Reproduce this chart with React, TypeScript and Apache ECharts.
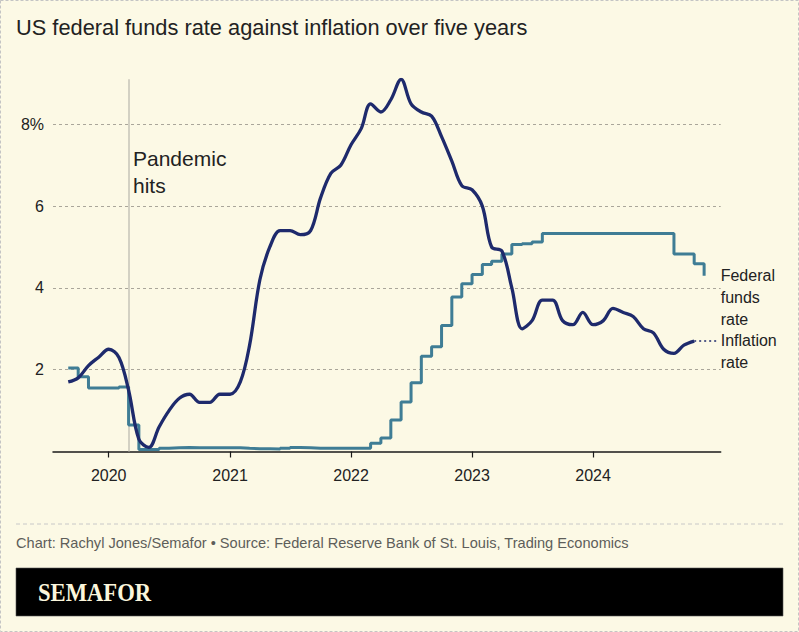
import React, { useEffect, useRef } from 'react';
import * as echarts from 'echarts';

// ---- Data (monthly, first of month) ----
const fedStart = [2019, 9];
const fedRate = [
  2.04, 1.83, 1.55, 1.55,
  1.55, 1.58, 0.65, 0.05, 0.05, 0.08, 0.09, 0.10, 0.09, 0.09, 0.09, 0.09,
  0.09, 0.08, 0.07, 0.07, 0.06, 0.08, 0.10, 0.09, 0.08, 0.08, 0.08, 0.08,
  0.08, 0.08, 0.20, 0.33, 0.77, 1.21, 1.68, 2.33, 2.56, 3.08, 3.78, 4.10,
  4.33, 4.57, 4.65, 4.83, 5.06, 5.08, 5.12, 5.33, 5.33, 5.33, 5.33, 5.33,
  5.33, 5.33, 5.33, 5.33, 5.33, 5.33, 5.33, 5.33, 4.83, 4.83, 4.59, 4.30,
];
const inflationStart = [2019, 9];
const inflationRate = [
  1.7, 1.8, 2.1, 2.3,
  2.5, 2.3, 1.5, 0.3, 0.1, 0.6, 1.0, 1.3, 1.4, 1.2, 1.2, 1.4,
  1.4, 1.7, 2.6, 4.2, 5.0, 5.4, 5.4, 5.3, 5.4, 6.2, 6.8, 7.0,
  7.5, 7.9, 8.5, 8.3, 8.6, 9.1, 8.5, 8.3, 8.2, 7.7, 7.1, 6.5,
  6.4, 6.0, 5.0, 4.9, 4.0, 3.0, 3.2, 3.7, 3.7, 3.2, 3.1, 3.4,
  3.1, 3.2, 3.5, 3.4, 3.3, 3.0, 2.9, 2.5, 2.4, 2.6, 2.7,
];
const yearTicks = [2020, 2021, 2022, 2023, 2024];
const yTickLabels: Record<number, string> = { 2: '2', 4: '4', 6: '6', 8: '8%' };
const pandemicDate = [2020, 3, 1];
const xRange = [[2019, 7, 17], [2025, 1, 20]];
const yRange = [0, 9.1];

const ts = (y: number, m: number, d = 1) => new Date(y, m - 1, d).getTime();
const monthSeries = (start: number[], values: number[]) =>
  values.map((v, i) => {
    const idx = start[1] - 1 + i;
    return [ts(start[0] + Math.floor(idx / 12), (idx % 12) + 1), v];
  });

const BG = '#fcf9e5';
const FED = '#3f7d95';
const INF = '#1e2a6c';
const TXT = '#222222';
const FONT = '"Liberation Sans", Arial, sans-serif';

export default function App() {
  const ref = useRef<HTMLDivElement>(null);
  useEffect(() => {
    document.body.style.margin = '0';
    const chart = echarts.init(ref.current!, undefined, { renderer: 'svg' });
    const fedData = monthSeries(fedStart, fedRate);
    const infData = monthSeries(inflationStart, inflationRate);
    const yearTs = yearTicks.map((y) => ts(y, 1));
    const xMin = ts(xRange[0][0], xRange[0][1], xRange[0][2]);
    const xMax = ts(xRange[1][0], xRange[1][1], xRange[1][2]);
    const lastInf = infData[infData.length - 1];

    chart.setOption({
      animation: false,
      backgroundColor: BG,
      grid: { left: 53, right: 78.3, top: 79.3, bottom: 180.5 },
      xAxis: {
        type: 'value',
        min: xMin,
        max: xMax,
        axisLine: { show: true, lineStyle: { color: '#1a1a1a', width: 1.5 } },
        axisTick: { show: true, length: 6, lineStyle: { color: '#1a1a1a', width: 1.2 }, customValues: yearTs },
        axisLabel: {
          customValues: yearTs,
          formatter: (v: number) => String(new Date(v).getFullYear()),
          fontSize: 16,
          color: TXT,
          fontFamily: FONT,
          margin: 16,
        },
        splitLine: { show: false },
        minorTick: { show: false },
      },
      yAxis: {
        type: 'value',
        min: yRange[0],
        max: yRange[1],
        interval: 2,
        axisLine: { show: false },
        axisTick: { show: false },
        axisLabel: {
          formatter: (v: number) => yTickLabels[v] ?? '',
          showMaxLabel: false,
          showMinLabel: false,
          margin: 9,
          fontSize: 16,
          color: TXT,
          fontFamily: FONT,
        },
        splitLine: {
          show: true,
          showMinLine: false,
          showMaxLine: false,
          lineStyle: { type: [3, 3], color: '#aaa69a', width: 1 },
        },
      },
      series: [
        {
          name: 'Federal funds rate',
          type: 'line',
          step: 'end',
          data: fedData,
          symbol: 'none',
          lineStyle: { color: FED, width: 3 },
          z: 2,
          markLine: {
            silent: true,
            symbol: ['none', 'none'],
            label: { show: false },
            lineStyle: { color: '#c6c3b7', width: 1.5, type: 'solid' },
            data: [{ xAxis: ts(pandemicDate[0], pandemicDate[1], pandemicDate[2]) }],
            z: 1,
          },
        },
        {
          name: 'Inflation rate',
          type: 'line',
          smooth: 0.35,
          data: infData,
          symbol: 'none',
          lineStyle: { color: INF, width: 3.3 },
          z: 3,
          markLine: {
            silent: true,
            symbol: ['none', 'none'],
            label: { show: false },
            lineStyle: { color: INF, width: 1.6, type: [2, 3] },
            data: [[{ coord: [lastInf[0], lastInf[1]] }, { coord: [xMax - 8 * 86400000, lastInf[1]] }]],
          },
        },
      ],
      graphic: [
        {
          type: 'rect',
          shape: { x: 0.5, y: 0.5, width: 798, height: 631 },
          style: { fill: 'none', stroke: '#c4c4c4', lineWidth: 1, lineDash: [3, 2] },
          silent: true,
        },
        {
          type: 'line',
          shape: { x1: 16, y1: 524, x2: 783, y2: 524 },
          style: { stroke: '#c8c8c8', lineWidth: 1, lineDash: [4, 3] },
          silent: true,
        },
        {
          type: 'text',
          x: 16,
          y: 27,
          style: { text: 'US federal funds rate against inflation over five years', fontSize: 21.8, fontFamily: FONT, fill: TXT, verticalAlign: 'middle', align: 'left' },
        },
        {
          type: 'text',
          x: 133,
          y: 145.3,
          style: { text: 'Pandemic\nhits', fontSize: 21, lineHeight: 26.5, fontFamily: FONT, fill: TXT, verticalAlign: 'top', align: 'left' },
        },
        {
          type: 'text',
          x: 720.7,
          y: 264.5,
          style: { text: 'Federal\nfunds\nrate', fontSize: 16, lineHeight: 21.8, fontFamily: FONT, fill: TXT, verticalAlign: 'top', align: 'left' },
        },
        {
          type: 'text',
          x: 720.7,
          y: 329.9,
          style: { text: 'Inflation\nrate', fontSize: 16, lineHeight: 21.8, fontFamily: FONT, fill: TXT, verticalAlign: 'top', align: 'left' },
        },
        {
          type: 'text',
          x: 16,
          y: 543.4,
          style: { text: 'Chart: Rachyl Jones/Semafor \u2022 Source: Federal Reserve Bank of St. Louis, Trading Economics', fontSize: 14.6, fontFamily: FONT, fill: '#5e5e5a', verticalAlign: 'middle', align: 'left' },
        },
        {
          type: 'rect',
          shape: { x: 16, y: 568, width: 767, height: 48 },
          style: { fill: '#000000', stroke: '#555', lineWidth: 0.6 },
        },
        {
          type: 'text',
          x: 38,
          y: 592,
          scaleX: 0.87,
          style: { text: 'SEMAFOR', fontSize: 26, fontWeight: 'bold', fontFamily: '"Liberation Serif", "DejaVu Serif", serif', fill: '#fbf6dc', verticalAlign: 'middle', align: 'left' },
        },
      ],
    });
    return () => chart.dispose();
  }, []);
  return <div ref={ref} style={{ width: 799, height: 632 }} />;
}
